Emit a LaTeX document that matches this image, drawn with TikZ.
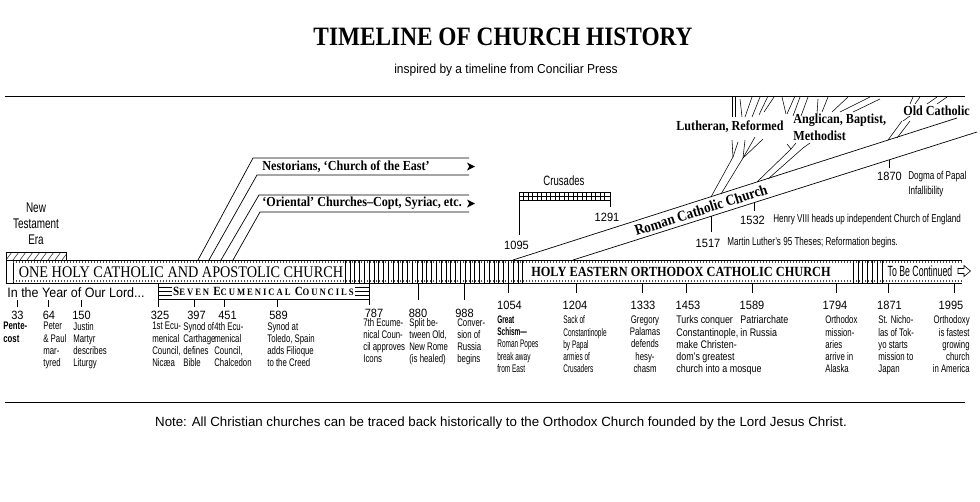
\documentclass[tikz,border=0pt]{standalone}
\usepackage{fontspec}
\setmainfont{Liberation Serif}[FakeStretch=0.88]
\newfontfamily\plainf{Liberation Sans}
\newfontfamily\sansf{Liberation Sans}[FakeStretch=0.92]
\newfontfamily\midf{Liberation Sans}[FakeStretch=0.81]
\newfontfamily\condf{Liberation Sans}[FakeStretch=0.71]
\newfontfamily\narrf{Liberation Sans}[FakeStretch=0.59]
\newfontfamily\capsf{Liberation Serif}[FakeStretch=0.88,LetterSpace=20]
\usetikzlibrary{calc}
\newcommand\fs[2]{\fontsize{#1}{#2}\selectfont}
\newcommand\sck[2]{{\fs{12.5}{13}#1}{\fs{9.8}{13}#2}}

\begin{document}
\begin{tikzpicture}[x=1pt,y=-1pt,line width=.7pt,
 yr/.style={font=\sansf\fs{12}{12},inner sep=0pt},
 ev/.style={font=\condf\fs{11}{12.2},inner sep=0pt,anchor=north west,align=left},
 nt/.style={font=\condf\fs{11.4}{15.6},inner sep=0pt,anchor=west,align=left},
 br/.style={font=\bfseries\fs{13.8}{17},inner sep=0pt,anchor=west,align=left},
 hatch/.style={line width=.45pt},
 tk/.style={line width=.6pt},
 fan/.style={line width=.55pt}]
\useasboundingbox(0,0)rectangle(980,501);
\node[font=\bfseries\fs{26.5}{28}](title)at(503,37){TIMELINE OF CHURCH HISTORY};
\node[font=\sansf\fs{13}{14}](sub)at(506,70){inspired by a timeline from Conciliar Press};
\draw(5,96)--(965,96) (5,402)--(965,402);
\node[font=\plainf\fs{13.3}{14}](note)at(501,423){Note: All Christian churches can be traced back historically to the Orthodox Church founded by the Lord Jesus Christ.};
% main band
\draw(6,260)--(962,260) (6,283)--(962,283) (6,260)--(6,283) (13,260)--(13,283);
\draw[black!70,line width=2.2pt,dash pattern=on .5pt off 2.5pt](13,262)--(962,262) (13,281)--(962,281);
\foreach \x in {345,349.8,...,524}\draw[hatch](\x,260)--(\x,283);
\foreach \x in {853,857.8,...,883}\draw[hatch](\x,260)--(\x,283);
\node[font=\fs{16.2}{17}](one)at(181,272){ONE HOLY CATHOLIC AND APOSTOLIC CHURCH};
\node[font=\bfseries\fs{14}{15}](heo)at(681,272){HOLY EASTERN ORTHODOX CATHOLIC CHURCH};
\node[font=\narrf\fs{14.8}{15}](cont)at(920,271){To Be Continued};
\draw[fill=white,line width=.6pt](958,268.5)--(964,268.5)--(964,265.5)--(970.5,271)--(964,276.5)--(964,273.5)--(958,273.5)--cycle;
% new testament era
\node[font=\condf\fs{14}{16},align=center](nte)at(36,224){New\\Testament\\Era};
\draw(6,252)rectangle(66,260);
\begin{scope}\clip(6,252)rectangle(66,260);\foreach \x in {6,13,...,76}\draw[hatch](\x,260)--(\x+6,252);\end{scope}
\node[font=\sansf\fs{13.6}{15},anchor=west,inner sep=0pt](yol)at(7,293){In the Year of Our Lord...};
% councils
\draw(158,283)--(158,307) (369,283)--(369,305) (158,299)--(369,299);
\foreach \y in {287,291,295}\draw[hatch](158,\y)--(369,\y);
\node[font=\capsf\bfseries,fill=white,inner sep=1pt](sec)at(263.5,291){\sck{S}{EVEN} \sck{E}{CUMENICAL} \sck{C}{OUNCILS}};
% ticks and years
\foreach \x in {17,48,81,194,224,277}\draw[tk](\x,300)--(\x,307);
\foreach \x in {418,464}\draw[tk](\x,283)--(\x,300);
\foreach \x in {508,576,642,686,752,836,888,954}\draw[tk](\x,283)--(\x,293);
\foreach \x/\t in {17.5/33,49/64,81.5/150,160/325,196.5/397,227.5/451,278.5/589}\node[yr](y\t)at(\x,315){\t};
\foreach \x/\t in {374/787,418/880,464.5/988}\node[yr](y\t)at(\x,313){\t};
\foreach \x/\t in {509.5/1054,575/1204,643/1333,688/1453,752/1589,835/1794,889.5/1871,951/1995}\node[yr](y\t)at(\x,305){\t};
\node[ev,font=\condf\bfseries\fs{11}{12.2}](d33)at(3,322){Pente-\\cost};
\node[ev](d64)at(43,322){Peter\\\& Paul\\mar-\\tyred};
\node[ev](d150)at(73,322){Justin\\Martyr\\describes\\Liturgy};
\node[ev](d325)at(152,322){1st Ecu-\\menical\\Council,\\Nicæa};
\node[ev](d397)at(183,322){Synod of\\Carthage\\defines\\Bible};
\node[ev](d451)at(214,322){4th Ecu-\\menical\\Council,\\Chalcedon};
\node[ev](d589)at(267,322){Synod at\\Toledo, Spain\\adds Filioque\\to the Creed};
\node[ev](d787)at(363,318){7th Ecume-\\nical Coun-\\cil approves\\Icons};
\node[ev](d880)at(409,318){Split be-\\tween Old,\\New Rome\\(is healed)};
\node[ev](d988)at(457,318){Conver-\\sion of\\Russia\\begins};
\node[ev,font=\narrf\fs{11}{12.2}](d1054)at(497,315.5){\textbf{Great}\\\textbf{Schism—}\\Roman Popes\\break away\\from East};
\node[ev,font=\narrf\fs{11}{12.2}](d1204)at(563,315.5){Sack of\\Constantinople\\by Papal\\armies of\\Crusaders};
\node[ev,anchor=north,align=center](d1333)at(645,315.5){Gregory\\Palamas\\defends\\hesy-\\chasm};
\node[ev,font=\midf\fs{11}{12.2}](d1453)at(676,315.5){Turks conquer\\Constantinople,\\make Christen-\\dom’s greatest\\church into a mosque};
\node[ev,font=\midf\fs{11}{12.2}](d1589)at(740,315.5){Patriarchate\\in Russia};
\node[ev](d1794)at(825,315.5){Orthodox\\mission-\\aries\\arrive in\\Alaska};
\node[ev](d1871)at(878,315.5){St. Nicho-\\las of Tok-\\yo starts\\mission to\\Japan};
\node[ev,anchor=north east,align=right](d1995)at(970,315.5){Orthodoxy\\is fastest\\growing\\church\\in America};
% eastern branches
\draw(198,260)--(253,158)--(469,158) (209,260)--(257,175)--(469,175);
\draw(221,260)--(259,195)--(469,195) (233,260)--(260,212)--(469,212);
\node[br](nes)at(262,166.5){Nestorians, ‘Church of the East’};
\node[br](ori)at(262,203.5){‘Oriental’ Churches–Copt, Syriac, etc.};
\fill(475,166.5)--++(-8,-4)--++(2.2,4)--++(-2.2,4)--cycle;
\fill(475,203.5)--++(-8,-4)--++(2.2,4)--++(-2.2,4)--cycle;
% crusades
\node[font=\condf\fs{13.5}{13}](cru)at(564,181){Crusades};
\draw(519,192)rectangle(610,200) (519,196)--(610,196);
\foreach \x in {523.5,528,...,606}\draw[hatch](\x,192)--(\x,200);
\draw[tk](519,200)--(519,235) (610,200)--(610,207);
\node[yr](y1095)at(516.5,245){1095};\node[yr](y1291)at(607,217){1291};
% roman catholic
\coordinate(u0)at(513,260);\coordinate(u1)at(957,118);
\coordinate(l0)at(573,260);\coordinate(l1)at(977,132);
\draw(u0)--(u1) (l0)--(l1);
\node[font=\bfseries\fs{15}{16},rotate=17.7](rcc)at(701,210){Roman Catholic Church};
\draw[tk](711,216.3)--(711,232) (754,202.6)--(754,211) (889,159.8)--(889,168);
\node[yr](y1517)at(708,243){1517};\node[nt](t1517)at(727,243){Martin Luther’s 95 Theses; Reformation begins.};
\node[yr](y1532)at(752.5,220){1532};\node[nt](t1532)at(773,220){Henry VIII heads up independent Church of England};
\node[yr](y1870)at(889.5,176){1870};\node[nt,anchor=north west](t1870)at(908,170.5){Dogma of Papal\\Infallibility};
% protestant branches
\node[br](lut)at(676,127){Lutheran, Reformed};
\node[br,anchor=north west](ang)at(793,114){Anglican, Baptist,\\Methodist};
\node[br](oldc)at(903,111){Old Catholic};
\foreach \xa/\ya/\xb/\yb in {711/197/733/157,721/194/743/158,733/157/732/140,733/157/738/142,743/158/745/140,743/158/755/137,743/158/763/139,
 757/182/791/149,768/179/803/148,791/149/787/144,791/149/796/143,803/148/810/143,888/140/902/121,897/138/910/121,903/121/910/116,
 732/117/732/96,735/117/735/96,742/117/740/99,745/117/752/97,752/117/760/97,759/115/768/96,764/112/774/97,786/114/782/97,787/114/795/96,
 793/116/800/97,801/116/808/97,817/114/818/99,822/112/828/97,832/112/848/97,840/112/870/97,853/112/880/99,
 910/104/913/97,915/104/920/97,927/104/937/97,937/104/947/97}\draw[fan](\xa,\ya)--(\xb,\yb);
\end{tikzpicture}
\end{document}
